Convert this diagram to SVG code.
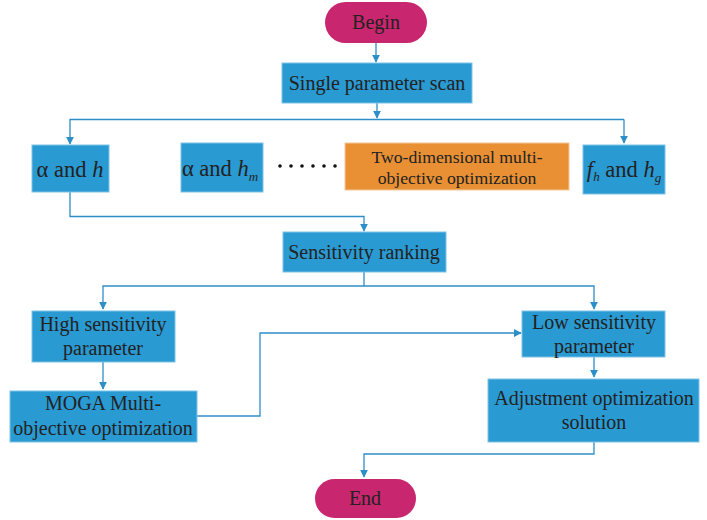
<svg xmlns="http://www.w3.org/2000/svg" width="707" height="520" viewBox="0 0 707 520">
<style>
.box{fill:#2A9AD3;stroke:#7DC3E8;stroke-width:1}
.org{fill:#E89033;stroke:#F5C89A;stroke-width:1}
.pill{fill:#C8266E}
.t{font-family:"Liberation Serif","Times New Roman",serif;font-size:20px;fill:#222;text-anchor:middle}
.s{font-size:17.7px}
.m{font-size:22.5px}
.i{font-style:italic}
.c{fill:none;stroke:#2E8FC8;stroke-width:1.3}
</style>
<defs>
<marker id="ar" viewBox="0 0 10 10" refX="9" refY="5" markerWidth="8" markerHeight="8" markerUnits="userSpaceOnUse" orient="auto">
<path d="M0,0 L10,5 L0,10 Z" fill="#2E8FC8"/>
</marker>
</defs>
<rect width="707" height="520" fill="#fff"/>
<g id="connectors">
<path class="c" d="M376,43 V62" marker-end="url(#ar)"/>
<path class="c" d="M377,103 V118" marker-end="url(#ar)"/>
<path class="c" d="M624,119.5 H70 V144" marker-end="url(#ar)"/>
<path class="c" d="M624,119.5 V143" marker-end="url(#ar)"/>
<path class="c" d="M70,192 V216.5 H364 V231" marker-end="url(#ar)"/>
<path class="c" d="M364,272 V286 H103 V309" marker-end="url(#ar)"/>
<path class="c" d="M364,286 H594 V309" marker-end="url(#ar)"/>
<path class="c" d="M103,362 V389" marker-end="url(#ar)"/>
<path class="c" d="M197,416 H260 V333 H521" marker-end="url(#ar)"/>
<path class="c" d="M594,357 V377" marker-end="url(#ar)"/>
<path class="c" d="M594,442 V454 H364 V477" marker-end="url(#ar)"/>
</g>
<g id="begin">
<rect class="pill" x="325" y="2" width="102" height="41" rx="20.5"/>
<text class="t" x="376" y="29">Begin</text>
</g>
<g id="scan">
<rect class="box" x="282" y="63" width="190" height="40"/>
<text class="t" x="377" y="90">Single parameter scan</text>
</g>
<g id="alpha-h">
<rect class="box" x="32" y="145" width="77" height="47"/>
<text class="t m" x="70" y="177">α and <tspan class="i">h</tspan></text>
</g>
<g id="alpha-hm">
<rect class="box" x="181" y="143" width="82" height="49"/>
<text class="t m" x="220" y="176">α and <tspan class="i">h</tspan><tspan class="i" font-size="13" dy="5">m</tspan></text>
</g>
<g id="dots" fill="#111">
<circle cx="280" cy="166" r="1.8"/>
<circle cx="291" cy="166" r="1.8"/>
<circle cx="302" cy="166" r="1.8"/>
<circle cx="313" cy="166" r="1.8"/>
<circle cx="324" cy="166" r="1.8"/>
<circle cx="335" cy="166" r="1.8"/>
</g>
<g id="two-dim">
<rect class="org" x="345" y="143" width="224" height="47"/>
<text class="t s" x="457" y="163">Two-dimensional multi-</text>
<text class="t s" x="457" y="184">objective optimization</text>
</g>
<g id="fh-hg">
<rect class="box" x="583" y="145" width="82" height="49"/>
<text class="t m" x="624" y="177"><tspan class="i">f</tspan><tspan class="i" font-size="13" dy="4">h</tspan><tspan dy="-4"> and </tspan><tspan class="i">h</tspan><tspan class="i" font-size="13" dy="5">g</tspan></text>
</g>
<g id="ranking">
<rect class="box" x="283" y="232" width="163" height="40"/>
<text class="t" x="364" y="259">Sensitivity ranking</text>
</g>
<g id="high">
<rect class="box" x="32" y="311" width="143" height="51"/>
<text class="t" x="103" y="331">High sensitivity</text>
<text class="t" x="103" y="355">parameter</text>
</g>
<g id="moga">
<rect class="box" x="10" y="391" width="187" height="51"/>
<text class="t" x="103" y="410">MOGA Multi-</text>
<text class="t" x="103" y="435">objective optimization</text>
</g>
<g id="low">
<rect class="box" x="522" y="311" width="143" height="46"/>
<text class="t" x="594" y="329">Low sensitivity</text>
<text class="t" x="594" y="353">parameter</text>
</g>
<g id="adjust">
<rect class="box" x="488" y="379" width="211" height="63"/>
<text class="t" x="594" y="405">Adjustment optimization</text>
<text class="t" x="594" y="429">solution</text>
</g>
<g id="end">
<rect class="pill" x="315" y="479" width="101" height="39" rx="19.5"/>
<text class="t" x="365" y="505">End</text>
</g>
</svg>
